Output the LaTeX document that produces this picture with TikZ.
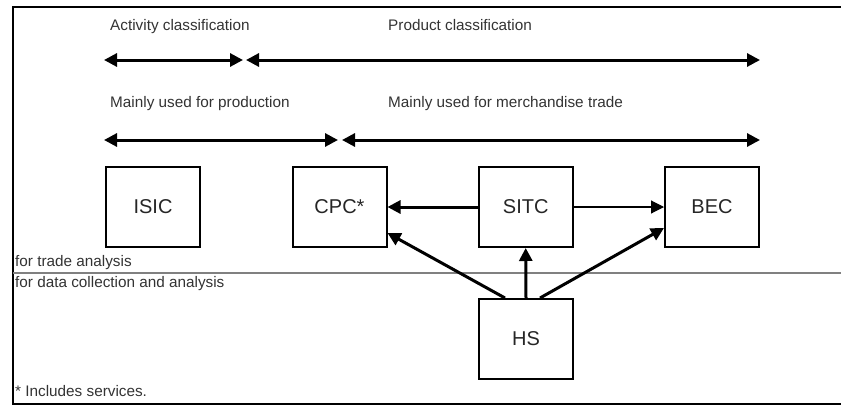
\documentclass[tikz,border=0pt]{standalone}
\usepackage{fontspec}
\setmainfont{Liberation Sans}
\usetikzlibrary{arrows.meta,calc}
\begin{document}
\begin{tikzpicture}[x=1pt,y=-1pt,
  cls/.style={draw=black,line width=2pt,minimum width=94pt,minimum height=80pt,inner sep=0pt,font=\fontsize{20}{22}\selectfont,text=black!85},
  lbl/.style={anchor=base west,inner sep=0pt,font=\fontsize{15.3}{17}\selectfont,text=black!80},
  tip/.style={-{Triangle[length=13pt,width=13pt]}},
  both/.style={{Triangle[length=13pt,width=13pt]}-{Triangle[length=13pt,width=13pt]}},
  thick arrow/.style={line width=3pt},
  thin arrow/.style={line width=1.1pt}
]
\useasboundingbox (0,0) rectangle (841,405);
% frame
\draw[line width=2.2pt] (841,7) -- (13,7) -- (13,404) -- (841,404);
\draw[black!50,line width=2pt] (13,272.5) -- (841,272.5);

% labels
\node[lbl] (t1) at (110,30) {Activity classification};
\node[lbl] (t2) at (388,30) {Product classification};
\node[lbl] (t3) at (110,107) {Mainly used for production};
\node[lbl] (t4) at (388,107) {Mainly used for merchandise trade};
\node[lbl] (t5) at (15,266) {for trade analysis};
\node[lbl] (t6) at (15,287) {for data collection and analysis};
\node[lbl] (t7) at (15,396) {* Includes services.};

% span arrows
\coordinate (a1) at (104,60);
\coordinate (a2) at (243,60);
\coordinate (a3) at (246,60);
\coordinate (a4) at (760,60);
\coordinate (b1) at (104,140);
\coordinate (b2) at (338,140);
\coordinate (b3) at (342,140);
\coordinate (b4) at (760,140);
\draw[both,thick arrow] (a1) -- (a2);
\draw[both,thick arrow] (a3) -- (a4);
\draw[both,thick arrow] (b1) -- (b2);
\draw[both,thick arrow] (b3) -- (b4);

% boxes
\node[cls] (isic) at (153,207) {ISIC};
\node[cls] (cpc) at (339.5,207) {CPC*};
\node[cls] (sitc) at (525.7,207) {SITC};
\node[cls] (bec) at (712,207) {BEC};
\node[cls] (hs) at (526,339) {HS};

% connectors
\draw[tip,thick arrow] (sitc.west) -- (cpc.east);
\draw[tip,thin arrow] (sitc.east) -- (bec.west);
\draw[tip,thick arrow] ($(hs.north)+(-21,0)$) -- ($(cpc.east)+(0,26)$);
\draw[tip,thick arrow] (hs.north) -- (sitc.south);
\draw[tip,thick arrow] ($(hs.north)+(14,0)$) -- ($(bec.west)+(0,21)$);
\end{tikzpicture}
\end{document}
